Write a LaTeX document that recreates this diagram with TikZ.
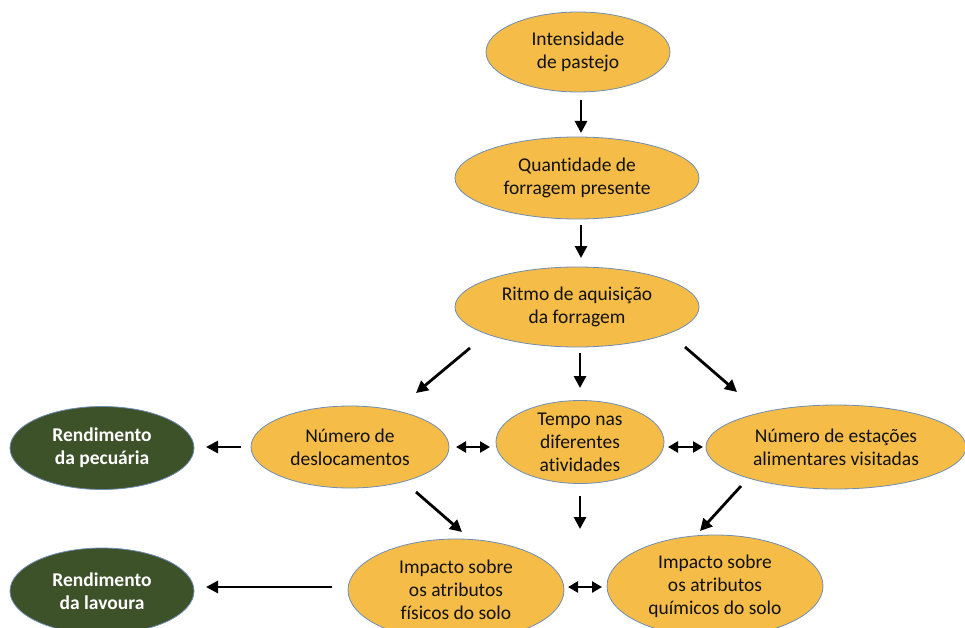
\documentclass[tikz,border=0pt]{standalone}
\usepackage{fontspec}
\setmainfont{Carlito}[Ligatures=NoCommon]
\usetikzlibrary{shapes.geometric,arrows.meta,calc}
\definecolor{fillY}{HTML}{F5BD47}
\definecolor{edgeB}{HTML}{6E8DB5}
\definecolor{fillG}{HTML}{3E5229}
\definecolor{txtK}{HTML}{111111}
\tikzset{
  ell/.style={ellipse, draw=edgeB, line width=0.8pt, fill=fillY, inner sep=0pt,
    align=center, text=txtK, font=\fontsize{19.5}{23}\selectfont},
  gell/.style={ellipse, draw=edgeB, line width=0.8pt, fill=fillG, inner sep=0pt,
    align=center, text=white, font=\fontsize{19.5}{23}\selectfont\bfseries},
  arr/.style={line width=2.8pt, -{Triangle[length=12pt,width=12pt]}},
  darr/.style={line width=2.8pt, {Triangle[length=10pt,width=11pt]}-{Triangle[length=10pt,width=11pt]}}
}
\begin{document}
\begin{tikzpicture}[x=1pt,y=-1pt]
\useasboundingbox (0,0) rectangle (965,628);
\clip (0,0) rectangle (965,628);
\fill[white] (0,0) rectangle (965,628);

\node[ell, minimum width=184pt, minimum height=80pt] (n1) at (578,52) {Intensidade\\de pastejo};
\node[ell, minimum width=244pt, minimum height=82pt] (n2) at (577,178) {Quantidade de\\forragem presente};
\node[ell, minimum width=244pt, minimum height=80pt] (n3) at (577,307) {Ritmo de aquisição\\da forragem};
\node[ell, minimum width=198pt, minimum height=82pt] (nd) at (350,447) {Número de\\deslocamentos};
\node[ell, minimum width=168pt, minimum height=83pt] (nt) at (580,442) {Tempo nas\\diferentes\\atividades};
\node[ell, minimum width=260pt, minimum height=84pt, inner xsep=-12pt] (ne) at (836,447) {Número de estações\\alimentares visitadas};
\node[gell, minimum width=184pt, minimum height=83pt] (rp) at (102,448) {Rendimento\\da pecuária};
\node[gell, minimum width=184pt, minimum height=86pt] (rl) at (102,591) {Rendimento\\da lavoura};
\node[ell, minimum width=216pt, minimum height=102pt] (nf) at (456,590) {Impacto sobre\\os atributos\\físicos do solo};
\node[ell, minimum width=216pt, minimum height=102pt] (nq) at (715,586) {Impacto sobre\\os atributos\\químicos do solo};
\coordinate (tdown) at (580,529);

\draw[arr] ($(n1.center)+(3,48)$) -- ($(n2.center)+(4,-45)$);
\draw[arr] ($(n2.center)+(4,47)$) -- ($(n3.center)+(4,-49)$);
\draw[arr] ($(n3.center)+(-107,41)$) -- ($(nd.center)+(66,-54)$);
\draw[arr] ($(n3.center)+(3,46)$) -- ($(nt.center)+(0,-54)$);
\draw[arr] ($(n3.center)+(108,40)$) -- ($(ne.center)+(-99,-55)$);
\draw[darr] ($(nd.center)+(106,0)$) -- ($(nt.center)+(-90,5)$);
\draw[darr] ($(nt.center)+(88,5)$) -- ($(ne.center)+(-133,0)$);
\draw[arr] ($(nd.center)+(-109,0)$) -- ($(rp.center)+(104,-1)$);
\draw[arr] ($(nd.center)+(66,45)$) -- ($(nf.center)+(6,-58)$);
\draw[arr] ($(nt.center)+(0,54)$) -- (tdown);
\draw[arr] ($(ne.center)+(-95,39)$) -- ($(nq.center)+(-15,-55)$);
\draw[darr] ($(nf.center)+(112,-3)$) -- ($(nq.center)+(-113,1)$);
\draw[arr] ($(nf.center)+(-124,-3)$) -- ($(rl.center)+(104,-4)$);
\end{tikzpicture}
\end{document}
